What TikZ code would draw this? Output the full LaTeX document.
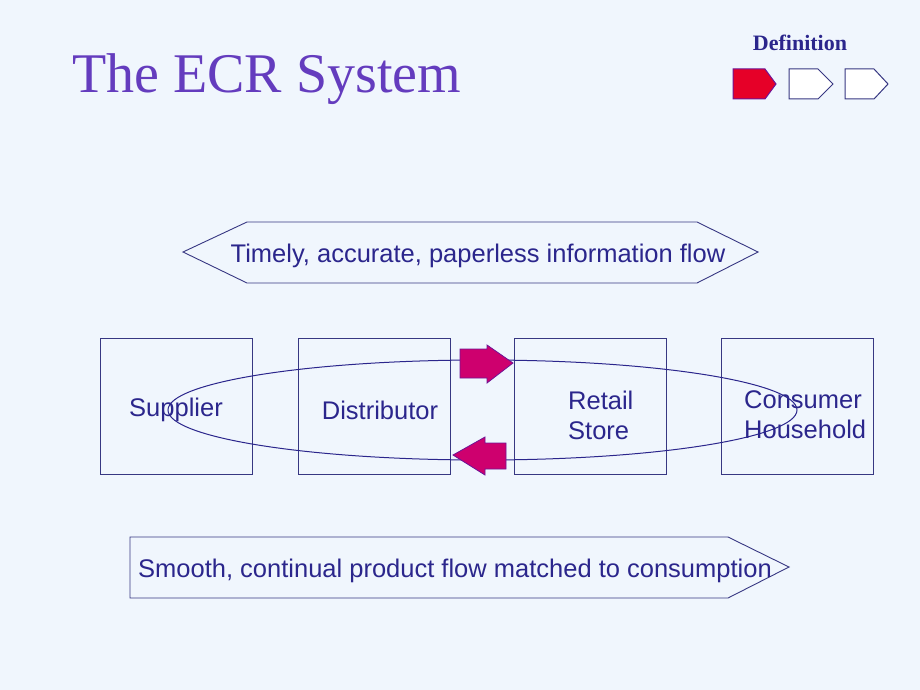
\documentclass[tikz,border=0pt]{standalone}
\usepackage{fontspec}
\setmainfont{Liberation Serif}
\setsansfont{Liberation Sans}
\usepackage{xcolor}
\usetikzlibrary{shapes,positioning}

\definecolor{slidebg}{RGB}{240,246,253}
\definecolor{titlecol}{RGB}{100,60,190}
\definecolor{inkcol}{RGB}{43,38,140}
\definecolor{linecol}{RGB}{55,55,130}
\definecolor{navred}{RGB}{230,0,40}
\definecolor{pushcol}{RGB}{206,0,110}
\definecolor{pushedge}{RGB}{110,20,150}

\begin{document}
\begin{tikzpicture}[x=1pt, y=-1pt,
		box/.style={rectangle, draw=linecol, line width=1pt, minimum width=152pt,
				minimum height=136pt, inner sep=0pt},
		txt/.style={text=inkcol, font=\sffamily\fontsize{25.5}{30}\selectfont, align=left, inner sep=0pt},
		flow/.style={draw=linecol, line width=0.9pt, fill=slidebg},
		navtab/.style={draw=linecol, line width=1pt, fill=white},
		push/.style={draw=pushedge, line width=0.8pt, fill=pushcol}
	]
	\useasboundingbox[fill=slidebg] (0,0) rectangle (920,690);

	% header
	\node[anchor=base west, inner sep=0pt, text=titlecol, font=\fontsize{56}{60}\selectfont] (title) at (72,93) {The ECR System};
	\node[inner sep=0pt, text=inkcol, font=\bfseries\fontsize{22}{24}\selectfont] (defn) at (800,43) {Definition};
	\filldraw[navtab, fill=navred, draw=pushedge] (733,69) -- (765,69) -- (776,84) -- (765,99) -- (733,99) -- cycle;
	\filldraw[navtab] (789,69) -- (818,69) -- (833,84) -- (818,99) -- (789,99) -- cycle;
	\filldraw[navtab] (845,69) -- (874,69) -- (888,84) -- (874,99) -- (845,99) -- cycle;

	% information flow
	\filldraw[flow] (183,252) -- (247,222) -- (697,222) -- (758,252) -- (697,283) -- (247,283) -- cycle;
	\node[txt] (info) at (478,256) {Timely, accurate, paperless information flow};

	% supply chain
	\node[box] (supplier) at (176,406) {};
	\node[box] (distributor) at (374.5,406) {};
	\node[box] (retail) at (590,406) {};
	\node[box] (consumer) at (797,406) {};
	\node[txt] (suppliertxt) at (176,410) {Supplier};
	\node[txt] (distributortxt) at (380,410) {Distributor};
	\node[txt, anchor=west] (retailtxt) at (568,415) {Retail\\Store};
	\node[txt, anchor=west] (consumertxt) at (744,415) {Consumer\\Household};

	% ECR loop
	\node[ellipse, draw=inkcol, line width=1pt, minimum width=629pt, minimum height=100pt, inner sep=0pt] (ecrloop) at (482.5,410) {};

	% push arrows
	\filldraw[push] (460,349) -- (487,349) -- (487,345) -- (513,363) -- (487,383) -- (487,378) -- (460,378) -- cycle;
	\filldraw[push] (506,443) -- (485,443) -- (485,437) -- (453,455) -- (485,475) -- (485,469) -- (506,469) -- cycle;

	% product flow
	\filldraw[flow] (130,537) -- (728,537) -- (789,567) -- (728,598) -- (130,598) -- cycle;
	\node[txt] (product) at (455,571) {Smooth, continual product flow matched to consumption};
\end{tikzpicture}
\end{document}
